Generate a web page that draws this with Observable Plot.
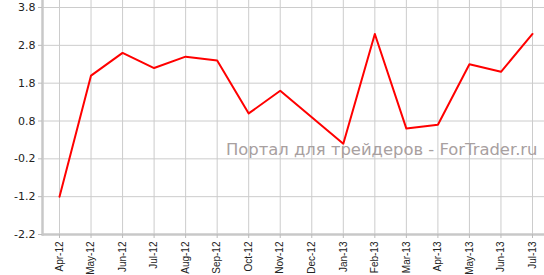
<!DOCTYPE html>
<html><head><meta charset="utf-8">
<script src="https://cdn.jsdelivr.net/npm/d3@7"></script>
<script src="https://cdn.jsdelivr.net/npm/@observablehq/plot@0.6"></script>
<style>body{margin:0;background:#fff}</style>
</head><body><div id="chart"></div>
<script>
const months = ["Apr-12","May-12","Jun-12","Jul-12","Aug-12","Sep-12","Oct-12","Nov-12","Dec-12","Jan-13","Feb-13","Mar-13","Apr-13","May-13","Jun-13","Jul-13"];
const values = [-1.2, 2.0, 2.6, 2.2, 2.5, 2.4, 1.0, 1.6, 0.9, 0.2, 3.1, 0.6, 0.7, 2.3, 2.1, 3.1];
const yTicks = [-2.2, -1.2, -0.2, 0.8, 1.8, 2.8, 3.8];
const watermark = ["Портал для трейдеров - ForTrader.ru"];

const data = months.map((m, i) => ({month: m, value: values[i]}));

const chart = Plot.plot({
  width: 544, height: 275,
  marginLeft: 42, marginRight: 0, marginTop: 0, marginBottom: 41,
  style: {background: "#fff", fontFamily: "DejaVu Sans", color: "#222"},
  x: {type: "point", domain: months, range: [59, 532], padding: 0, round: false},
  y: {domain: [-2.2, 3.8], range: [234, 7]},
  marks: [
    Plot.ruleY(yTicks, {stroke: "#cccccc"}),
    Plot.ruleX(months, {stroke: "#cccccc"}),
    Plot.text(watermark, {frameAnchor: "bottom-right", dx: -7, dy: -80, fill: "#a8a0a0", fontSize: 16.4, textAnchor: "end", lineAnchor: "bottom", fontFamily: "DejaVu Sans"}),
    Plot.line(data, {x: "month", y: "value", stroke: "#ff0000", strokeWidth: 2}),
    Plot.frame({anchor: "left", stroke: "#c8c8c8", strokeWidth: 2.5}),
    Plot.ruleY([yTicks[0]], {stroke: "#c8c8c8", strokeWidth: 2.5}),
    Plot.axisY({ticks: yTicks, label: null, tickFormat: d => d.toFixed(1), tickSize: 4, tickPadding: 3, fontSize: 11, stroke: "#bbbbbb", fill: "#222", fontFamily: "DejaVu Sans"}),
    Plot.axisX({label: null, tickRotate: -90, tickSize: 4, tickPadding: 3, fontSize: 10, stroke: "#bbbbbb", fill: "#222", fontFamily: "Liberation Sans"})
  ]
});
document.getElementById("chart").appendChild(chart);
</script>
</body></html>
